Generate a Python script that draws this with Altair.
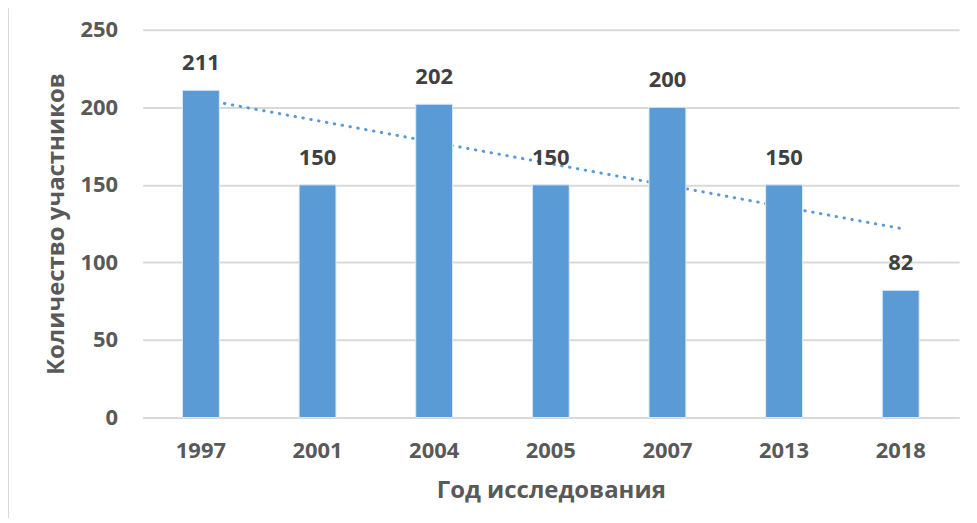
import altair as alt
import pandas as pd
import numpy as np

years = ["1997", "2001", "2004", "2005", "2007", "2013", "2018"]
values = [211, 150, 202, 150, 200, 150, 82]

# linear trend over category index (as Excel's linear trendline)
idx = np.arange(1, len(values) + 1)
slope, intercept = np.polyfit(idx, values, 1)
trend = list(intercept + slope * idx)

df = pd.DataFrame({"year": years, "value": values, "trend": trend})

FONT = "Open Sans"
BLUE = "#5B9BD5"
W, H = 819, 389

x = alt.X("year:N", sort=years, title="Год исследования",
          scale=alt.Scale(paddingInner=0, paddingOuter=0),
          axis=alt.Axis(labelAngle=0, labelFontSize=22, labelFontWeight="bold",
                        labelColor="#595959", labelFont=FONT, labelPadding=23,
                        ticks=False, domainColor="#D9D9D9", domainWidth=2,
                        titleFontSize=24, titleFont=FONT, titleFontWeight="bold",
                        titleColor="#595959", titlePadding=17))
y = alt.Y("value:Q", title="Количество участников",
          scale=alt.Scale(domain=[0, 250], nice=False),
          axis=alt.Axis(values=[0, 50, 100, 150, 200, 250], labelFontSize=22,
                        labelFontWeight="bold", labelColor="#595959", labelFont=FONT,
                        labelPadding=25, ticks=False, domain=False,
                        gridColor="#D9D9D9", gridWidth=2,
                        titleFontSize=24, titleFont=FONT, titleFontWeight="bold",
                        titleColor="#595959", titlePadding=12))

base = alt.Chart(df)

trend_line = base.mark_line(color=BLUE, strokeWidth=3, strokeDash=[0.5, 7.5],
                            strokeCap="round").encode(
    x=x, y=alt.Y("trend:Q", scale=alt.Scale(domain=[0, 250], nice=False)))

bars = base.mark_bar(color=BLUE, size=37, stroke="#DDEBF7", strokeWidth=1).encode(x=x, y=y)

labels = base.mark_text(dy=-27, fontSize=22, fontWeight="bold", font=FONT,
                        color="#404040").encode(x=x, y="value:Q", text="value:Q")

frame = base.mark_rule(color="#D9D9D9", strokeWidth=2).encode(
    x=alt.value(-135), y=alt.value(-21), y2=alt.value(H + 105))

chart = alt.layer(trend_line, bars, labels, frame).properties(
    width=W, height=H,
    autosize=alt.AutoSizeParams(type="none"),
    padding={"left": 135, "top": 21, "right": 10, "bottom": 100},
).configure_view(stroke=None)

chart.save("out.html", embed_options={"renderer": "svg", "actions": False})
